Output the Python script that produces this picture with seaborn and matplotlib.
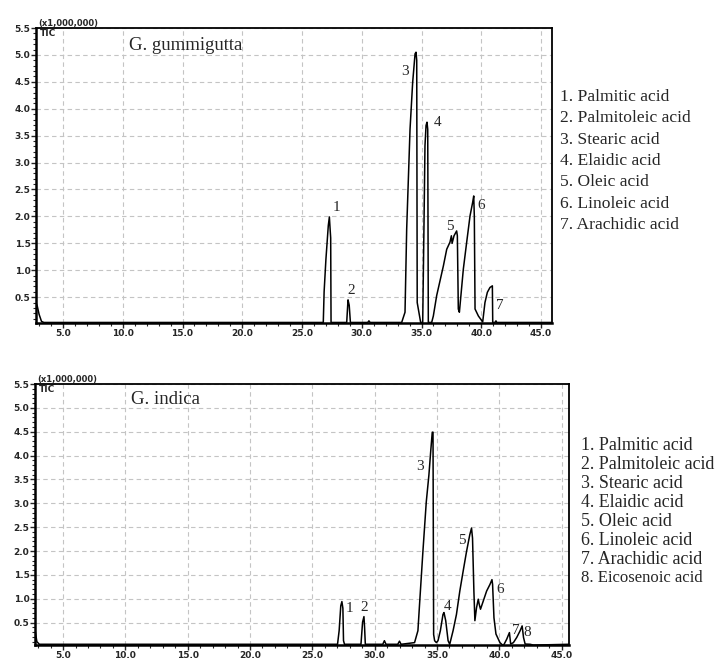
import pandas as pd
import seaborn as sns
import matplotlib.pyplot as plt
from matplotlib.ticker import MultipleLocator, FormatStrFormatter

# === 1. Data (time in min, TIC in x1,000,000) ===
gum_time = [2.74, 2.85, 3.0, 3.2, 3.4, 26.78, 26.85, 27.0, 27.2, 27.29, 27.35, 27.40, 27.43,
            28.74, 28.85, 28.95, 29.05, 30.5, 30.6, 30.7,
            33.34, 33.62, 33.76, 34.04, 34.26, 34.46, 34.54, 34.60, 34.64, 34.93,
            35.10, 35.21, 35.29, 35.38, 35.46, 35.52, 35.57,
            35.85, 35.99, 36.27, 36.83, 37.11, 37.38, 37.50, 37.56, 37.72, 37.94, 38.00,
            38.08, 38.17, 38.50, 38.78, 39.06, 39.28, 39.37, 39.42, 39.48, 39.76, 40.12,
            40.31, 40.51, 40.73, 40.93, 40.96, 41.15, 41.23, 41.30, 45.92]
gum_tic = [0.40, 0.33, 0.18, 0.05, 0.03, 0.03, 0.60, 1.20, 1.83, 1.99, 1.77, 1.60, 0.03,
           0.03, 0.45, 0.35, 0.03, 0.03, 0.06, 0.03,
           0.03, 0.22, 1.77, 3.62, 4.49, 5.02, 5.05, 4.90, 0.40, 0.03,
           0.03, 1.89, 3.31, 3.69, 3.75, 3.62, 0.03,
           0.03, 0.15, 0.53, 1.08, 1.39, 1.52, 1.64, 1.50, 1.64, 1.73, 1.64,
           0.28, 0.22, 1.02, 1.52, 2.01, 2.26, 2.38, 2.00, 0.28, 0.15, 0.04,
           0.40, 0.59, 0.68, 0.71, 0.03, 0.03, 0.06, 0.03, 0.03]
gum_peaks = ["1", "2", "3", "4", "5", "6", "7"]
gum_label_t = [27.85, 29.10, 33.60, 36.35, 37.38, 40.00, 41.57]
gum_label_v = [2.17, 0.63, 4.70, 3.75, 1.82, 2.20, 0.34]
gum_acids = ["Palmitic acid", "Palmitoleic acid", "Stearic acid", "Elaidic acid",
             "Oleic acid", "Linoleic acid", "Arachidic acid"]

ind_time = [2.75, 2.9, 3.1, 27.02, 27.15, 27.28, 27.37, 27.45, 27.50, 27.58,
            28.90, 29.03, 29.14, 29.19, 29.25, 30.65, 30.78, 30.91, 31.85, 31.99, 32.12,
            33.20, 33.47, 33.60, 33.87, 34.14, 34.35, 34.49, 34.62, 34.68, 34.73, 34.81, 34.95,
            35.08, 35.27, 35.48, 35.56, 35.70, 35.89, 36.02,
            36.29, 36.56, 36.83, 37.10, 37.37, 37.63, 37.77, 37.85, 37.96, 38.04,
            38.17, 38.31, 38.39, 38.49, 38.71, 38.98, 39.25, 39.41, 39.46, 39.57, 39.73,
            40.05, 40.32, 40.59, 40.81, 40.91, 41.13, 41.40, 41.67, 41.83, 41.94, 42.07,
            42.47, 42.74, 45.59]
ind_tic = [0.35, 0.10, 0.045, 0.045, 0.33, 0.85, 0.94, 0.80, 0.12, 0.045,
           0.045, 0.51, 0.625, 0.40, 0.045, 0.045, 0.12, 0.045, 0.045, 0.11, 0.045,
           0.08, 0.33, 0.88, 1.99, 3.03, 3.59, 4.07, 4.49, 4.49, 0.25, 0.12, 0.08,
           0.12, 0.33, 0.67, 0.71, 0.54, 0.12, 0.045,
           0.33, 0.67, 1.16, 1.58, 1.99, 2.34, 2.48, 2.27, 1.16, 0.54,
           0.81, 0.99, 0.88, 0.78, 0.95, 1.16, 1.30, 1.40, 1.30, 0.60, 0.26,
           0.08, 0.014, 0.15, 0.29, 0.05, 0.08, 0.19, 0.33, 0.43, 0.19, 0.05,
           0.045, 0.028, 0.045]
ind_peaks = ["1", "2", "3", "4", "5", "6", "7", "8"]
ind_label_t = [27.96, 29.17, 33.66, 35.81, 36.96, 40.05, 41.34, 42.26]
ind_label_v = [0.80, 0.81, 3.77, 0.84, 2.22, 1.19, 0.33, 0.29]
ind_acids = gum_acids + ["Eicosenoic acid"]

gum = pd.DataFrame({"time": gum_time, "tic": gum_tic})
ind = pd.DataFrame({"time": ind_time, "tic": ind_tic})

# === 2. Style ===
sns.set_style("white")
plt.rcParams["font.family"] = ["DejaVu Sans"]
SERIF = "Liberation Serif"

fig = plt.figure(figsize=(7.2, 6.61), dpi=100)
W, H = 720, 661


def px_axes(left, top, right, bottom):
    return fig.add_axes([left / W, 1 - bottom / H, (right - left) / W, (bottom - top) / H])


def draw_panel(ax, df, xlim, ylim, title, peaks, lab_t, lab_v, lab_size):
    sns.lineplot(data=df, x="time", y="tic", ax=ax, color="black", linewidth=1.1,
                 sort=False, estimator=None)
    ax.set_xlim(*xlim)
    ax.set_ylim(*ylim)
    ax.xaxis.set_major_locator(MultipleLocator(5))
    ax.xaxis.set_minor_locator(MultipleLocator(1))
    ax.yaxis.set_major_locator(MultipleLocator(0.5))
    ax.yaxis.set_minor_locator(MultipleLocator(0.1))
    ax.xaxis.set_major_formatter(FormatStrFormatter("%.1f"))
    ax.yaxis.set_major_formatter(FormatStrFormatter("%.1f"))
    ax.grid(True, which="major", color="#c4c4c4", linestyle=(0, (4, 3)), linewidth=0.8)
    ax.tick_params(which="major", direction="out", length=3.5, width=1, labelsize=6.5,
                   pad=0.5, bottom=True, left=True)
    ax.tick_params(which="minor", direction="out", length=2.2, width=0.8,
                   bottom=True, left=True)
    for lbl in ax.get_xticklabels() + ax.get_yticklabels():
        lbl.set_fontweight("bold")
    for side in ["left", "bottom"]:
        ax.spines[side].set_linewidth(1.8)
    for side in ["top", "right"]:
        ax.spines[side].set_linewidth(1.3)
    for s in ax.spines.values():
        s.set_color("black")
    ax.set_xlabel("")
    ax.set_ylabel("")
    ax.text(0.005, 1.0, "(x1,000,000)", transform=ax.transAxes, fontsize=6,
            fontweight="bold", ha="left", va="bottom")
    ax.text(0.008, 0.995, "TIC", transform=ax.transAxes, fontsize=6.5,
            fontweight="bold", ha="left", va="top")
    ax.text(0.18, 0.94, title, transform=ax.transAxes, fontsize=13.5,
            family=SERIF, ha="left", va="center")
    for p, t, v in zip(peaks, lab_t, lab_v):
        ax.text(t, v, p, fontsize=lab_size, family=SERIF, ha="center", va="center")


ax1 = px_axes(36, 28, 552, 323)
draw_panel(ax1, gum, (2.74, 45.92), (0.02, 5.5), "G. gummigutta",
           gum_peaks, gum_label_t, gum_label_v, 11)

ax2 = px_axes(35, 384, 569, 645)
draw_panel(ax2, ind, (2.75, 45.59), (0.03, 5.5), "G. indica",
           ind_peaks, ind_label_t, ind_label_v, 11)

# === 3. Peak legends ===
for i, name in enumerate(gum_acids):
    fig.text(560 / W, 1 - (97 + i * 21.3) / H, f"{i + 1}. {name}", fontsize=12.6,
             family=SERIF, ha="left", va="center")

for i, name in enumerate(ind_acids):
    size = 12.9 if i < 7 else 12
    fig.text(581 / W, 1 - (446 + i * 18.9) / H, f"{i + 1}. {name}", fontsize=size,
             family=SERIF, ha="left", va="center")

fig.savefig("out.png", dpi=100)
